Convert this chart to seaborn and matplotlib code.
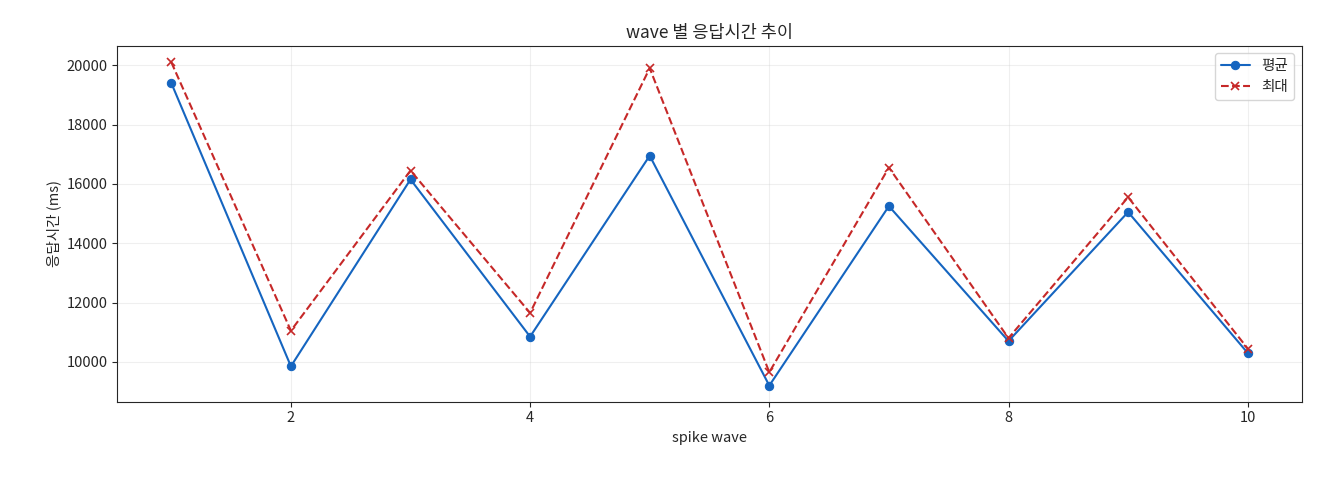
import matplotlib
matplotlib.use("Agg")
import matplotlib.pyplot as plt
import seaborn as sns
import pandas as pd

waves = [1, 2, 3, 4, 5, 6, 7, 8, 9, 10]
avg_ms = [19400, 9850, 16150, 10850, 16950, 9200, 15250, 10700, 15050, 10300]
max_ms = [20100, 11050, 16450, 11650, 19900, 9650, 16550, 10800, 15550, 10450]

sns.set_style("ticks")
plt.rcParams['font.family'] = ['Noto Sans CJK KR', 'DejaVu Sans']
plt.rcParams['font.size'] = 10.5

df = pd.DataFrame({"wave": waves, "평균": avg_ms, "최대": max_ms})

fig, ax = plt.subplots(figsize=(13.2, 4.8), dpi=100)
sns.lineplot(data=df, x="wave", y="평균", marker="o", markersize=6,
             markeredgecolor="#1565c0", color="#1565c0", label="평균", ax=ax)
sns.lineplot(data=df, x="wave", y="최대", marker="x", markersize=6, linestyle="--",
             markeredgecolor="#c62828", markeredgewidth=1.2,
             color="#c62828", label="최대", ax=ax)
ax.set_title("wave 별 응답시간 추이")
ax.set_xlabel("spike wave")
ax.set_ylabel("응답시간 (ms)")
ax.grid(True, alpha=0.3)
ax.legend(loc="upper right")
fig.subplots_adjust(left=0.089, right=0.986, top=0.904, bottom=0.163)
fig.savefig("out.png")
